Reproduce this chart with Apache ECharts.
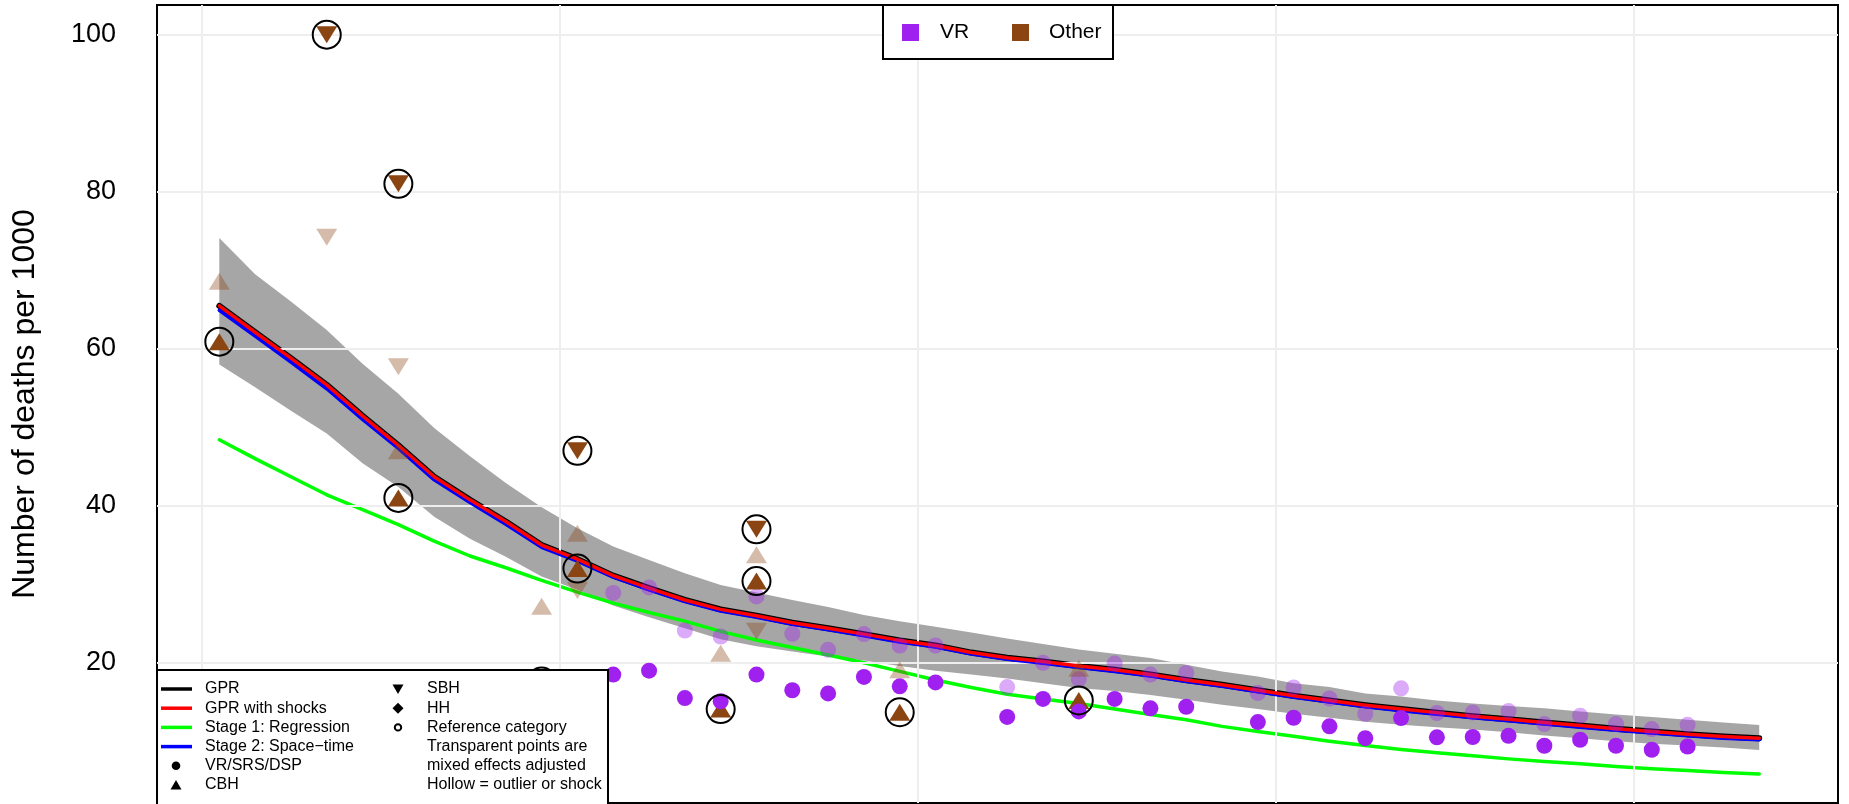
<!DOCTYPE html>
<html><head><meta charset="utf-8">
<script src="https://cdn.jsdelivr.net/npm/echarts@6/dist/echarts.min.js"></script>
<style>html,body{margin:0;padding:0;background:#fff}#c{width:1849px;height:804px}</style>
</head><body><div id="c"></div>
<script>
// ---- data (x = mid-year) ----
const years = [1970.5,1971.5,1972.5,1973.5,1974.5,1975.5,1976.5,1977.5,1978.5,1979.5,
  1980.5,1981.5,1982.5,1983.5,1984.5,1985.5,1986.5,1987.5,1988.5,1989.5,
  1990.5,1991.5,1992.5,1993.5,1994.5,1995.5,1996.5,1997.5,1998.5,1999.5,
  2000.5,2001.5,2002.5,2003.5,2004.5,2005.5,2006.5,2007.5,2008.5,2009.5,
  2010.5,2011.5,2012.5,2013.5];
const gpr = [65.45,62.1,58.8,55.4,51.45,47.7,43.7,40.75,38.0,35.0,
  33.2,31.1,29.5,28.0,26.8,26.0,25.1,24.4,23.65,22.85,
  22.2,21.3,20.65,20.15,19.6,19.1,18.5,17.8,17.2,16.5,
  15.8,15.2,14.6,14.1,13.65,13.2,12.8,12.4,12.0,11.6,
  11.25,10.9,10.6,10.4];
const gprShocks = [65.45,62.1,58.8,55.4,51.45,47.7,43.7,40.75,38.0,35.0,
  33.2,31.1,29.5,28.0,26.8,26.0,25.1,24.4,23.65,22.85,
  22.2,21.3,20.65,20.15,19.6,19.1,18.5,17.8,17.2,16.5,
  15.8,15.2,14.6,14.1,13.65,13.2,12.8,12.4,12.0,11.6,
  11.25,10.9,10.6,10.4];
const stage2 = [64.9,61.6,58.3,54.9,51.0,47.3,43.3,40.4,37.65,34.7,
  32.95,30.9,29.3,27.8,26.6,25.8,24.9,24.2,23.45,22.65,
  22.0,21.1,20.45,19.95,19.4,18.9,18.3,17.6,17.0,16.3,
  15.6,15.0,14.4,13.9,13.45,13.0,12.6,12.2,11.8,11.4,
  11.05,10.7,10.4,10.2];
const stage1 = [48.4,46.0,43.7,41.4,39.5,37.6,35.5,33.6,32.1,30.5,
  29.0,27.6,26.4,25.3,24.0,22.9,21.95,21.0,20.0,18.9,
  17.8,16.85,16.0,15.4,14.8,14.1,13.4,12.75,11.9,11.25,
  10.65,10.0,9.45,8.95,8.55,8.15,7.76,7.43,7.14,6.8,
  6.5,6.29,6.03,5.83];
const upper = [74.1,69.5,66.0,62.4,58.1,54.25,49.9,46.3,42.9,39.8,
  37.15,34.8,33.1,31.4,29.9,28.95,28.0,27.1,26.1,25.3,
  24.6,23.85,23.1,22.4,21.7,21.15,20.6,19.75,18.9,18.25,
  17.4,16.9,16.1,15.7,15.2,14.8,14.5,14.2,13.8,13.4,
  13.1,12.75,12.4,12.07];
const lower = [58.0,55.1,52.1,49.2,45.4,42.4,38.6,35.8,33.5,31.0,
  29.3,27.3,25.8,24.4,23.0,22.1,21.45,20.8,20.3,19.6,
  19.0,18.5,18.0,17.4,16.8,16.4,15.9,15.3,14.65,14.1,
  13.5,13.0,12.5,12.1,11.8,11.5,11.15,10.75,10.4,10.0,
  9.7,9.45,9.2,8.9];

// VR/SRS/DSP points
const vrYears = [1981.5,1982.5,1983.5,1984.5,1985.5,1986.5,1987.5,1988.5,1989.5,1990.5,
  1992.5,1993.5,1994.5,1995.5,1996.5,1997.5,1999.5,2000.5,2001.5,2002.5,
  2003.5,2004.5,2005.5,2006.5,2007.5,2008.5,2009.5,2010.5,2011.5];
const vrRaw = [18.5,19.0,15.5,15.1,18.5,16.5,16.1,18.2,17.0,17.5,
  13.1,15.4,13.8,15.4,14.2,14.4,12.45,13.0,11.9,10.4,
  12.96,10.5,10.55,10.7,9.43,10.2,9.43,8.92,9.34];
const vrAdj = [28.9,29.6,24.1,23.35,28.45,23.7,21.65,23.65,22.2,22.2,
  16.9,20.0,17.9,19.9,18.5,18.7,16.15,16.85,15.45,13.5,
  16.75,13.6,13.67,13.85,12.2,13.25,12.2,11.56,12.1];

// CBH (Other)
const cbhYears = [1970.5,1975.5,1979.5,1980.5,1984.5,1985.5,1989.5,1994.5];
const cbhRaw = [60.9,41.0,17.6,32.0,14.1,30.4,13.7,15.2];
const cbhAdjYears = [1970.5,1975.5,1979.5,1980.5,1984.5,1985.5,1989.5,1994.5];
const cbhAdj = [68.6,47.0,27.2,36.5,21.2,33.75,19.1,19.3];

// SBH (Other)
const sbhYears = [1973.5,1975.5,1980.5,1985.5];
const sbhRaw = [100.0,81.0,47.0,37.0];
const sbhAdj = [74.2,57.7,29.2,24.0];

// outliers / shocks (hollow ring)
const outlierYears = [1970.5,1973.5,1975.5,1975.5,1979.5,1980.5,1980.5,1984.5,1985.5,1985.5,1989.5,1994.5];
const outlierVals  = [60.9,100.0,81.0,41.0,17.6,47.0,32.0,14.1,37.0,30.4,13.7,15.2];

const yTicks = [20,40,60,80,100];
const xGrid = [1970,1980,1990,2000,2010];

// ---- chart ----
const PURPLE = '#A020F0', BROWN = '#8B4513';
const FONT = "'Liberation Sans', Arial, sans-serif";
const zip = (xs, ys) => xs.map((x,i)=>[x, ys[i]]);
const chart = echarts.init(document.getElementById('c'));

const lineS = (name, arr, color, width, z) => ({
  type:'line', name, data: zip(years, arr), showSymbol:false, symbol:'none',
  lineStyle:{color, width, cap:'round', join:'round'}, z, silent:true, animation:false
});
const triSize = [21,17];

const option = {
  animation:false,
  grid:{left:157, top:5, width:1681, height:798, show:true, borderColor:'#000', borderWidth:2, backgroundColor:'transparent'},
  xAxis:{type:'value', min:1968.76, max:2015.70, axisLine:{show:false}, axisTick:{show:false},
    axisLabel:{show:false}, splitLine:{show:false}},
  yAxis:{type:'value', min:2.14, max:103.78, axisLine:{show:false}, axisTick:{show:false},
    splitLine:{show:false},
    axisLabel:{customValues:yTicks, fontSize:27, color:'#000', fontFamily:FONT, margin:41}},
  series:[
    {type:'line', data:[], z:1, silent:true,
     markLine:{silent:true, symbol:['none','none'], label:{show:false}, animation:false,
       lineStyle:{color:'#eeeeee', width:2, type:'solid'},
       data: xGrid.map(v=>({xAxis:v})).concat(yTicks.map(v=>({yAxis:v})))}},
    {type:'custom', z:2, silent:true, data:[[1990,30]],
     renderItem:(params, api)=>{
       const pts = [];
       for (let i=0;i<years.length;i++) pts.push(api.coord([years[i], upper[i]]));
       for (let i=years.length-1;i>=0;i--) pts.push(api.coord([years[i], lower[i]]));
       return {type:'polygon', shape:{points:pts}, style:{fill:'#a6a6a6'}};
     }},
    lineS('Stage 1: Regression', stage1, '#00ff00', 3.5, 3),
    lineS('GPR', gpr, '#000000', 6, 4),
    lineS('Stage 2: Space-time', stage2, '#0000ff', 3.5, 5),
    lineS('GPR with shocks', gprShocks, '#ff0000', 3.5, 6),
    {type:'scatter', name:'VR adj', data:zip(vrYears, vrAdj), symbol:'circle', symbolSize:16,
     itemStyle:{color:PURPLE, opacity:0.38}, z:7, silent:true},
    {type:'scatter', name:'CBH adj', data:zip(cbhAdjYears, cbhAdj), symbol:'triangle', symbolSize:triSize,
     itemStyle:{color:BROWN, opacity:0.36}, z:7, silent:true},
    {type:'scatter', name:'SBH adj', data:zip(sbhYears, sbhAdj), symbol:'triangle', symbolSize:triSize, symbolRotate:180,
     itemStyle:{color:BROWN, opacity:0.36}, z:7, silent:true},
    {type:'scatter', name:'CBH', data:zip(cbhYears, cbhRaw), symbol:'triangle', symbolSize:triSize,
     itemStyle:{color:BROWN, opacity:1}, z:8, silent:true},
    {type:'scatter', name:'SBH', data:zip(sbhYears, sbhRaw), symbol:'triangle', symbolSize:triSize, symbolRotate:180,
     itemStyle:{color:BROWN, opacity:1}, z:8, silent:true},
    {type:'scatter', name:'VR', data:zip(vrYears, vrRaw), symbol:'circle', symbolSize:16,
     itemStyle:{color:PURPLE, opacity:1}, z:8, silent:true},
    {type:'scatter', name:'Outlier', data:zip(outlierYears, outlierVals), symbol:'circle', symbolSize:28,
     itemStyle:{color:'rgba(0,0,0,0)', borderColor:'#000', borderWidth:2, opacity:1}, z:9, silent:true}
  ],
  graphic:[
    // y-axis title
    {type:'text', z:100, x:25, y:404, rotation:Math.PI/2,
     style:{text:'Number of deaths per 1000', font:"32px 'Liberation Sans', Arial, sans-serif", fill:'#000',
       textAlign:'center', textVerticalAlign:'middle'}},
    // top legend
    {type:'group', z:100, children:[
      {type:'rect', shape:{x:883, y:5, width:230, height:54}, style:{fill:'#fff', stroke:'#000', lineWidth:2}, z:100},
      {type:'rect', shape:{x:902, y:24, width:17, height:17}, style:{fill:PURPLE}, z:101},
      {type:'text', x:940, y:32.5, style:{text:'VR', font:"21px 'Liberation Sans', Arial, sans-serif", fill:'#000', textVerticalAlign:'middle'}, z:101},
      {type:'rect', shape:{x:1012, y:24, width:17, height:17}, style:{fill:BROWN}, z:101},
      {type:'text', x:1049, y:32.5, style:{text:'Other', font:"21px 'Liberation Sans', Arial, sans-serif", fill:'#000', textVerticalAlign:'middle'}, z:101}
    ]},
    // bottom-left legend
    {type:'group', z:100, children:(function(){
      const f = "16px 'Liberation Sans', Arial, sans-serif";
      const rows = [689, 708.2, 727.4, 746.6, 765.8, 785];
      const els = [{type:'rect', z:100, shape:{x:157, y:670, width:451, height:150}, style:{fill:'#fff', stroke:'#000', lineWidth:2}}];
      const lc = ['#000','#ff0000','#00ff00','#0000ff'];
      const t1 = ['GPR','GPR with shocks','Stage 1: Regression','Stage 2: Space\u2212time','VR/SRS/DSP','CBH'];
      const t2 = ['SBH','HH','Reference category','Transparent points are','mixed effects adjusted','Hollow = outlier or shock'];
      for (let i=0;i<6;i++){
        if (i<4) els.push({type:'line', z:101, shape:{x1:161, y1:rows[i], x2:192, y2:rows[i]}, style:{stroke:lc[i], lineWidth:3.5}});
        els.push({type:'text', z:101, x:205, y:rows[i], style:{text:t1[i], font:f, fill:'#000', textVerticalAlign:'middle'}});
        els.push({type:'text', z:101, x:427, y:rows[i], style:{text:t2[i], font:f, fill:'#000', textVerticalAlign:'middle'}});
      }
      els.push({type:'circle', z:101, shape:{cx:176, cy:rows[4], r:4.3}, style:{fill:'#000'}});
      els.push({type:'polygon', z:101, shape:{points:[[176,rows[5]-5],[181.5,rows[5]+4.5],[170.5,rows[5]+4.5]]}, style:{fill:'#000'}});
      els.push({type:'polygon', z:101, shape:{points:[[392.5,rows[0]-4.5],[403.5,rows[0]-4.5],[398,rows[0]+5]]}, style:{fill:'#000'}});
      els.push({type:'polygon', z:101, shape:{points:[[398,rows[1]-5.5],[403.5,rows[1]],[398,rows[1]+5.5],[392.5,rows[1]]]}, style:{fill:'#000'}});
      els.push({type:'circle', z:101, shape:{cx:398, cy:rows[2], r:3.2}, style:{fill:'#fff', stroke:'#000', lineWidth:2}});
      return els;
    })()}
  ]
};
chart.setOption(option);
</script></body></html>
